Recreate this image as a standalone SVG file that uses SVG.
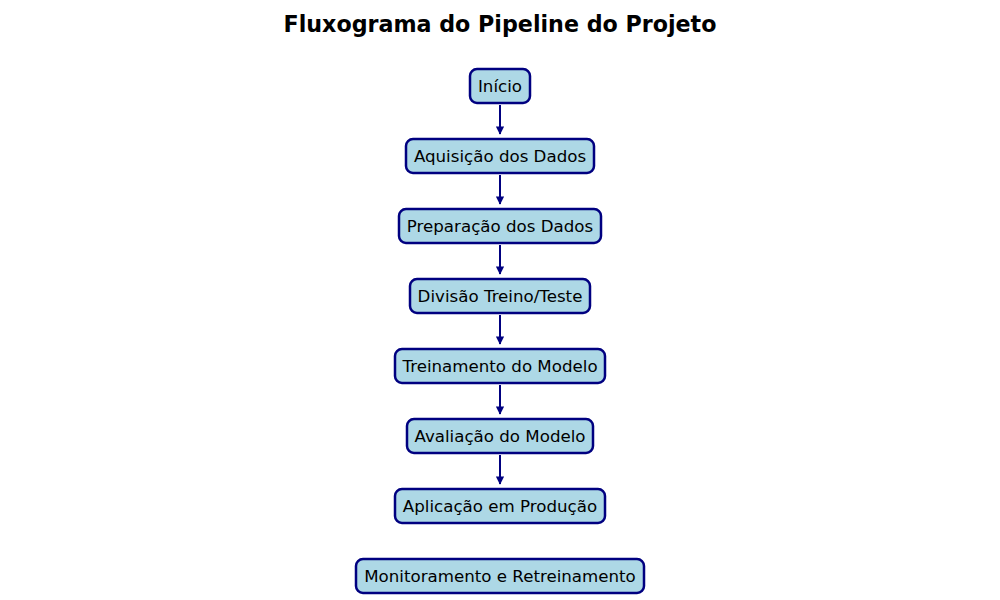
<svg xmlns="http://www.w3.org/2000/svg" width="1000" height="600" viewBox="0 0 1000 600">
<style>
.box{fill:#ADD8E6;stroke:#000080;stroke-width:2.5}
.lbl{font-family:"DejaVu Sans",sans-serif;font-size:16.67px;fill:#000;text-anchor:middle;dominant-baseline:central}
.title{font-family:"DejaVu Sans",sans-serif;font-size:22.2px;font-weight:bold;fill:#000;text-anchor:middle}
.edge{stroke:#000080;stroke-width:2;fill:none;marker-end:url(#ah)}
</style>
<defs>
<marker id="ah" viewBox="0 0 10 10" refX="9" refY="5" markerWidth="4.2" markerHeight="4.2" orient="auto" markerUnits="strokeWidth">
<path d="M0,0 L10,5 L0,10 Z" fill="#000080"/>
</marker>
</defs>
<rect width="1000" height="600" fill="#fff"/>
<text class="title" x="500" y="32">Fluxograma do Pipeline do Projeto</text>
<g id="connectors">
<line class="edge" x1="500" y1="105" x2="500" y2="134"/>
<line class="edge" x1="500" y1="175" x2="500" y2="204"/>
<line class="edge" x1="500" y1="245" x2="500" y2="274"/>
<line class="edge" x1="500" y1="315" x2="500" y2="344"/>
<line class="edge" x1="500" y1="385" x2="500" y2="414"/>
<line class="edge" x1="500" y1="455" x2="500" y2="484"/>
</g>
<g id="n1"><rect class="box" x="470" y="69" width="60" height="34" rx="7"/><text class="lbl" x="500" y="86">Início</text></g>
<g id="n2"><rect class="box" x="406" y="139" width="188" height="34" rx="7"/><text class="lbl" x="500" y="156">Aquisição dos Dados</text></g>
<g id="n3"><rect class="box" x="399" y="209" width="202" height="34" rx="7"/><text class="lbl" x="500" y="226">Preparação dos Dados</text></g>
<g id="n4"><rect class="box" x="410" y="279" width="180" height="34" rx="7"/><text class="lbl" x="500" y="296">Divisão Treino/Teste</text></g>
<g id="n5"><rect class="box" x="395" y="349" width="210" height="34" rx="7"/><text class="lbl" x="500" y="366">Treinamento do Modelo</text></g>
<g id="n6"><rect class="box" x="407" y="419" width="186" height="34" rx="7"/><text class="lbl" x="500" y="436">Avaliação do Modelo</text></g>
<g id="n7"><rect class="box" x="395" y="489" width="210" height="34" rx="7"/><text class="lbl" x="500" y="506">Aplicação em Produção</text></g>
<g id="n8"><rect class="box" x="356" y="559" width="288" height="34" rx="7"/><text class="lbl" x="500" y="576">Monitoramento e Retreinamento</text></g>
</svg>
